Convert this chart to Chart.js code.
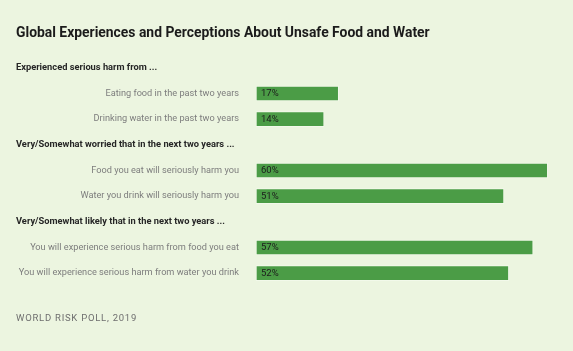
<!DOCTYPE html>
<html>
<head>
<meta charset="utf-8">
<script src="https://cdn.jsdelivr.net/npm/chart.js@4/dist/chart.umd.min.js"></script>
<style>
  html, body { margin: 0; padding: 0; background: #ecf5e0; }
  #contenedor { position: relative; width: 573px; height: 351px; overflow: hidden; }
  #grafica { position: absolute; left: 0; top: 0; }
  #titulo { position: absolute; left: 16px; top: 24px; font: bold 13.9px Roboto; color: #1b1b1b; white-space: nowrap; }
  #fuente { position: absolute; left: 16px; top: 312px; font: 9.5px Roboto; letter-spacing: 0.75px; color: #6e6e6e; white-space: nowrap; }
</style>
</head>
<body>
<div id="contenedor">
  <canvas id="grafica" width="573" height="351"></canvas>
  <div id="titulo">Global Experiences and Perceptions About Unsafe Food and Water</div>
  <div id="fuente">WORLD RISK POLL, 2019</div>
</div>
<script>
// filas de la grafica (encabezados de grupo + preguntas)
const categorias = [
  "Experienced serious harm from ...",
  "Eating food in the past two years",
  "Drinking water in the past two years",
  "Very/Somewhat worried that in the next two years ...",
  "Food you eat will seriously harm you",
  "Water you drink will seriously harm you",
  "Very/Somewhat likely that in the next two years ...",
  "You will experience serious harm from food you eat",
  "You will experience serious harm from water you drink"
];
const esEncabezado = [true, false, false, true, false, false, true, false, false];
const porcentajes = [null, 17, 14, null, 60, 51, null, 57, 52];

const color_barra = '#4b9c46';
const color_borde = '#f2f9ea';

// dibuja etiquetas de filas y los valores dentro de las barras
const pluginEtiquetas = {
  id: 'etiquetas',
  afterDatasetsDraw(chart) {
    const ctx = chart.ctx;
    const ejeY = chart.scales.y;
    const izq = chart.chartArea.left;
    ctx.save();
    ctx.textBaseline = 'middle';
    categorias.forEach(function (texto, i) {
      const y = ejeY.getPixelForTick(i);
      if (esEncabezado[i]) {
        ctx.font = 'bold 9.3px Roboto';
        ctx.fillStyle = '#262626';
        ctx.textAlign = 'left';
        ctx.fillText(texto, 16, y);
      } else {
        ctx.font = '9.2px Roboto';
        ctx.fillStyle = '#7d7d7d';
        ctx.textAlign = 'right';
        ctx.fillText(texto, izq - 17, y);
      }
    });
    const meta = chart.getDatasetMeta(0);
    ctx.font = '9.5px Roboto';
    ctx.fillStyle = '#1c1c1c';
    ctx.textAlign = 'left';
    meta.data.forEach(function (barra, i) {
      const v = porcentajes[i];
      if (v === null) return;
      ctx.fillText(v + '%', barra.base + 5, barra.y + 0.5);
    });
    ctx.restore();
  }
};

new Chart(document.getElementById('grafica'), {
  type: 'bar',
  data: {
    labels: categorias,
    datasets: [{
      data: porcentajes,
      backgroundColor: color_barra,
      borderColor: color_borde,
      borderWidth: 1,
      borderSkipped: false,
      barThickness: 15
    }]
  },
  options: {
    indexAxis: 'y',
    responsive: false,
    animation: false,
    layout: { padding: { top: 55, bottom: 65, left: 16, right: 1 } },
    plugins: {
      legend: { display: false },
      tooltip: { enabled: false }
    },
    scales: {
      x: { display: false, min: 0, max: 65 },
      y: {
        grid: { display: false },
        border: { display: false },
        ticks: { display: false },
        afterFit(scale) { scale.width = 240; }
      }
    }
  },
  plugins: [pluginEtiquetas]
});
</script>
</body>
</html>
